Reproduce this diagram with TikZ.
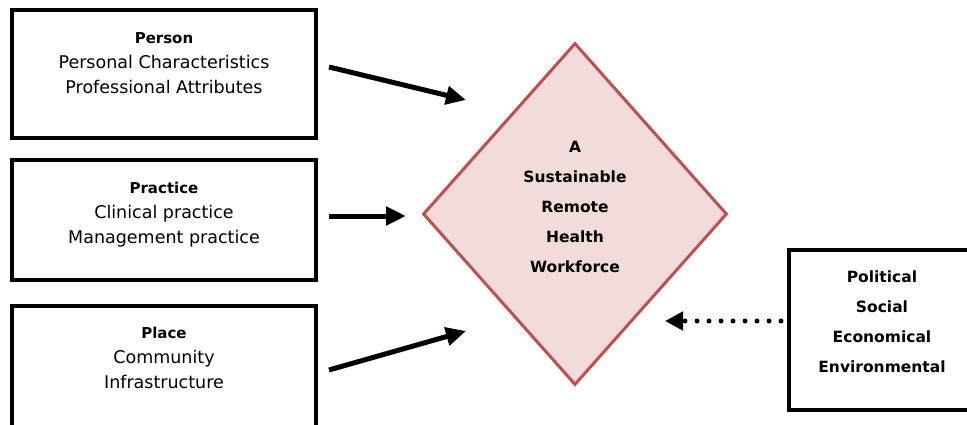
\documentclass[tikz,border=0pt]{standalone}
\usepackage{fontspec}
\setmainfont{DejaVu Sans}
\usetikzlibrary{shapes.geometric,arrows.meta}
\definecolor{diamondfill}{HTML}{F2DCDB}
\definecolor{diamondline}{HTML}{C0504D}
\newcommand{\heading}[1]{{\bfseries\fontsize{15}{25}\selectfont #1}}
\tikzset{
  factorbox/.style={draw=black, line width=4pt, fill=white, rectangle, inner sep=0pt},
  boxtext/.style={anchor=north, align=center, font=\fontsize{17.5}{25}\selectfont, inner sep=0pt},
  boldtext/.style={anchor=north, align=center, inner sep=0pt, font=\bfseries\fontsize{15.5}{30}\selectfont},
  goal/.style={shape=diamond, draw=diamondline, line width=3pt, fill=diamondfill, inner sep=0pt,
    minimum width=304pt, minimum height=342pt},
  influence/.style={line width=5pt, -{Triangle[length=20pt,width=18pt]}},
  context/.style={line width=5pt, line cap=round, dash pattern=on 0pt off 12pt,
    -{Triangle[length=18pt,width=18pt]}, shorten >=2pt}
}
\begin{document}
\begin{tikzpicture}[x=1pt,y=-1pt]
\useasboundingbox (0,0) rectangle (967,425);
\begin{scope}
\clip (0,0) rectangle (967,425);
% factor boxes
\node[factorbox, minimum width=304pt, minimum height=128pt] (person) at (164,74) {};
\node[factorbox, minimum width=304pt, minimum height=120pt] (practice) at (164,220) {};
\node[factorbox, minimum width=304pt, minimum height=140pt] (place) at (164,376) {};
\node[factorbox, minimum width=200pt, minimum height=160pt] (context) at (889,330) {};
\end{scope}
\node[boxtext] (persontext) at (164,32.5) {\heading{Person}\\Personal Characteristics\\Professional Attributes};
\node[boxtext] (practicetext) at (164,181.5) {\heading{Practice}\\Clinical practice\\Management practice};
\node[boxtext] (placetext) at (164,326.5) {\heading{Place}\\Community\\Infrastructure};
\node[boldtext] (contexttext) at (882,271) {Political\\Social\\Economical\\Environmental};
% central diamond
\node[goal] (wf) at (575,214) {};
\node[boldtext] (wftext) at (575,141) {A\\Sustainable\\Remote\\Health\\Workforce};
% arrow ends
\coordinate (a1) at (466,100);
\coordinate (a2) at (406,216);
\coordinate (a3) at (466,331);
\coordinate (a4) at (663,321);
\draw[influence] (person.east |- 0,67) ++(11,0) coordinate (p1) -- (a1);
\draw[influence] (practice.east |- 0,216) ++(11,0) coordinate (p2) -- (a2);
\draw[influence] (place.east |- 0,370) ++(11,0) coordinate (p3) -- (a3);
\draw[context] (context.west |- 0,321) ++(-6,0) coordinate (p4) -- (a4);
\end{tikzpicture}
\end{document}
